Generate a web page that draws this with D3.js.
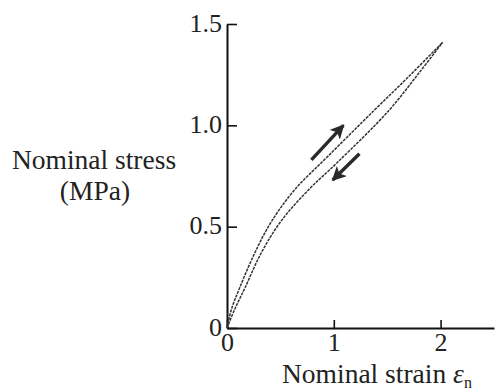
<!DOCTYPE html>
<html>
<head>
<meta charset="utf-8">
<script src="https://cdn.jsdelivr.net/npm/d3@7"></script>
<style>
  body { margin: 0; background: #fff; }
  text { font-family: "Liberation Serif", "DejaVu Serif", serif; fill: #222; }
</style>
</head>
<body>
<div id="chart"></div>
<script>
// loading branch (upper curve)
var loadStrain = [0, 0.04, 0.12, 0.26, 0.41, 0.63, 0.95, 1.38, 1.7, 2.02]
var loadStress = [0, 0.09, 0.2, 0.37, 0.52, 0.68, 0.85, 1.075, 1.24, 1.41]
// unloading branch (lower curve)
var unloadStrain = [0, 0.07, 0.17, 0.32, 0.51, 0.76, 1.04, 1.51, 1.8, 2.02]
var unloadStress = [0, 0.09, 0.2, 0.37, 0.53, 0.68, 0.82, 1.07, 1.26, 1.41]
var xTicks = [0, 1, 2]
var yTicks = [0, 0.5, 1.0, 1.5]

var width = 496, height = 391

var svg = d3.select("#chart").append("svg")
    .attr("width", width)
    .attr("height", height)

var x = d3.scaleLinear().domain([0, 2.5]).range([227, 494])
var y = d3.scaleLinear().domain([0, 1.5]).range([328, 24])

// axes, ticks pointing inward
var xAxis = svg.append("g")
    .attr("transform", "translate(0," + y(0) + ")")
    .call(d3.axisBottom(x).tickValues(xTicks).tickFormat(d3.format("d"))
      .tickSizeInner(-8).tickSizeOuter(0).tickPadding(5))
xAxis.select(".domain").attr("stroke", "#111").attr("stroke-width", 2)
xAxis.selectAll(".tick line").attr("stroke", "#111").attr("stroke-width", 1.6)
xAxis.selectAll("text").attr("font-size", 26).attr("font-family", "Liberation Serif").attr("fill", "#222")

var yAxis = svg.append("g")
    .attr("transform", "translate(" + x(0) + ",0)")
    .call(d3.axisLeft(y).tickValues(yTicks).tickFormat(d => d == 0 ? "0" : d3.format(".1f")(d))
      .tickSizeInner(-10).tickSizeOuter(0).tickPadding(5))
yAxis.select(".domain").attr("stroke", "#111").attr("stroke-width", 2)
yAxis.selectAll(".tick line").attr("stroke", "#111").attr("stroke-width", 1.6)
yAxis.selectAll("text").attr("font-size", 26).attr("font-family", "Liberation Serif").attr("fill", "#222")
  .attr("dy", "0.28em")

// curves
var line = d3.line()
    .x(d => x(d[0]))
    .y(d => y(d[1]))
    .curve(d3.curveCatmullRom.alpha(0.5))

var load = d3.zip(loadStrain, loadStress)
var unload = d3.zip(unloadStrain, unloadStress)

;[load, unload].forEach(function(pts) {
  svg.append("path")
    .datum(pts)
    .attr("fill", "none")
    .attr("stroke", "#333")
    .attr("stroke-width", 1.5)
    .attr("stroke-dasharray", "3 1")
    .attr("d", line)
})

// direction arrows
svg.append("defs").append("marker")
    .attr("id", "head")
    .attr("viewBox", "0 0 10 10")
    .attr("refX", 9).attr("refY", 5)
    .attr("markerWidth", 4.2).attr("markerHeight", 4.2)
    .attr("markerUnits", "strokeWidth")
    .attr("orient", "auto")
  .append("path")
    .attr("d", "M0,0 L10,5 L0,10 L2.5,5 Z")
    .attr("fill", "#2a2a2a")

var arrows = [
  {from: [0.79, 0.83], to: [1.09, 1.0]},
  {from: [1.24, 0.86], to: [0.99, 0.73]}
]
svg.append("g").selectAll("line")
  .data(arrows)
  .join("line")
    .attr("x1", d => x(d.from[0])).attr("y1", d => y(d.from[1]))
    .attr("x2", d => x(d.to[0])).attr("y2", d => y(d.to[1]))
    .attr("stroke", "#2a2a2a")
    .attr("stroke-width", 3.4)
    .attr("marker-end", "url(#head)")

// axis titles
svg.append("text")
    .attr("x", 94).attr("y", 169)
    .attr("text-anchor", "middle")
    .attr("font-size", 27.5)
    .text("Nominal stress")
svg.append("text")
    .attr("x", 95).attr("y", 200)
    .attr("text-anchor", "middle")
    .attr("font-size", 27.5)
    .text("(MPa)")

var xt = svg.append("text")
    .attr("x", 282).attr("y", 383)
    .attr("font-size", 27.5)
xt.append("tspan").text("Nominal strain ")
xt.append("tspan").attr("font-style", "italic").text("ε")
xt.append("tspan").attr("font-size", 16).attr("dy", 5).text("n")
</script>
</body>
</html>
